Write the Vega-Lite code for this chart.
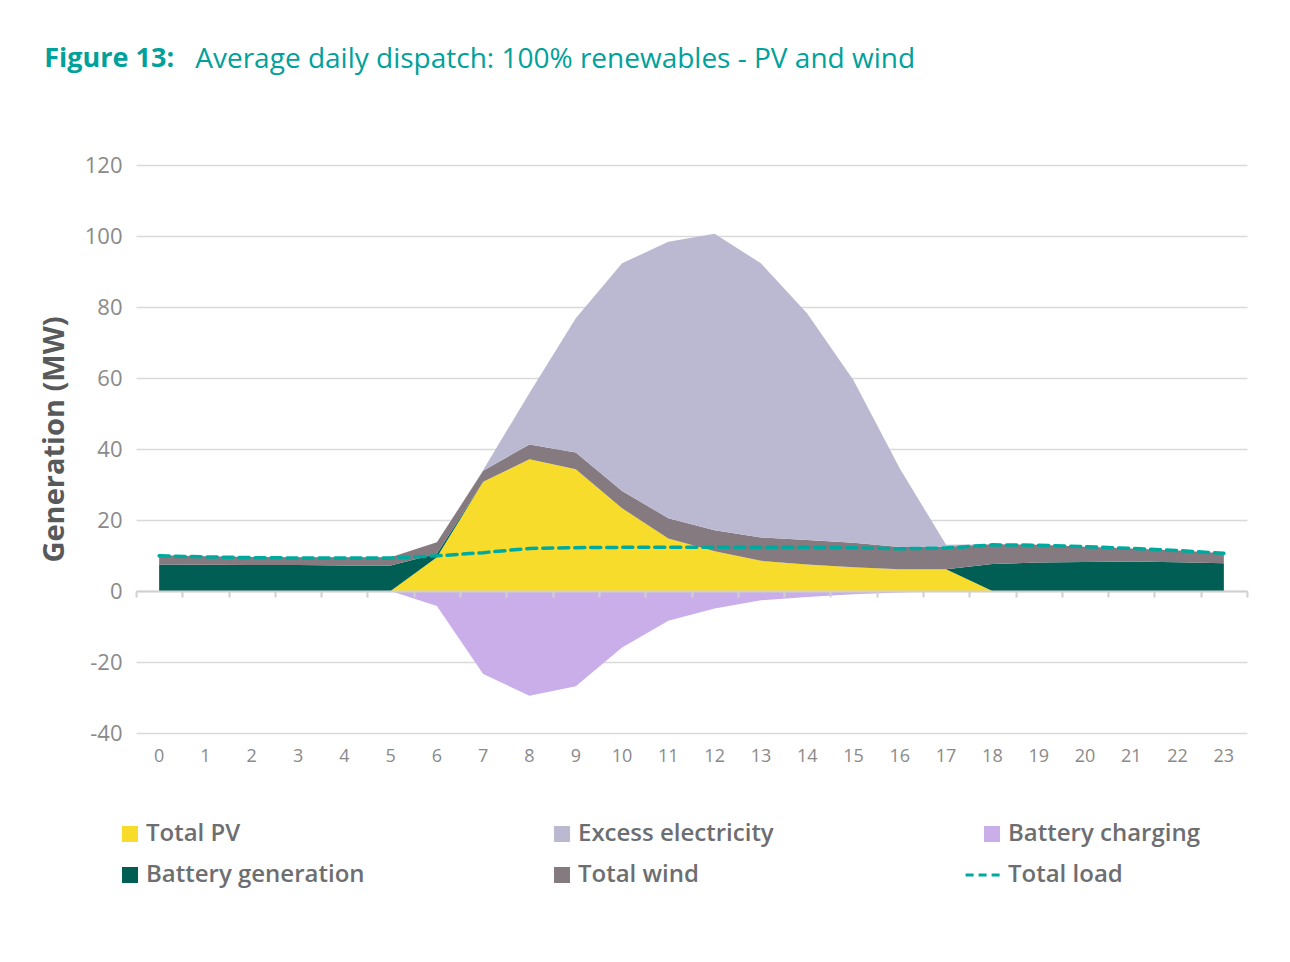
{
  "$schema": "https://vega.github.io/schema/vega-lite/v6.json",
  "width": 1111,
  "height": 568,
  "autosize": {"type": "none"},
  "padding": {"left": 136, "top": 165, "right": 43, "bottom": 229},
  "background": "white",
  "title": {
    "text": "Average daily dispatch: 100% renewables - PV and wind",
    "subtitle": "Figure 13:",
    "anchor": "start",
    "frame": "bounds",
    "dx": 4,
    "font": "Open Sans",
    "fontSize": 28,
    "fontWeight": "normal",
    "color": "#00a19a",
    "subtitleFont": "Open Sans",
    "subtitleFontSize": 27,
    "subtitleFontWeight": "bold",
    "subtitleColor": "#00a19a",
    "subtitlePadding": -28,
    "offset": 79,
    "encode": {"title": {"update": {"dx": {"value": 155}}}}
  },
  "datasets": {
    "stack": [
      {"hour": 0, "series": "Total PV", "ord": 1, "value": 0},
      {"hour": 1, "series": "Total PV", "ord": 1, "value": 0},
      {"hour": 2, "series": "Total PV", "ord": 1, "value": 0},
      {"hour": 3, "series": "Total PV", "ord": 1, "value": 0},
      {"hour": 4, "series": "Total PV", "ord": 1, "value": 0},
      {"hour": 5, "series": "Total PV", "ord": 1, "value": 0},
      {"hour": 6, "series": "Total PV", "ord": 1, "value": 9.5},
      {"hour": 7, "series": "Total PV", "ord": 1, "value": 30.8},
      {"hour": 8, "series": "Total PV", "ord": 1, "value": 37.1},
      {"hour": 9, "series": "Total PV", "ord": 1, "value": 34.3},
      {"hour": 10, "series": "Total PV", "ord": 1, "value": 23.3},
      {"hour": 11, "series": "Total PV", "ord": 1, "value": 14.8},
      {"hour": 12, "series": "Total PV", "ord": 1, "value": 11.2},
      {"hour": 13, "series": "Total PV", "ord": 1, "value": 8.5},
      {"hour": 14, "series": "Total PV", "ord": 1, "value": 7.5},
      {"hour": 15, "series": "Total PV", "ord": 1, "value": 6.7},
      {"hour": 16, "series": "Total PV", "ord": 1, "value": 6.1},
      {"hour": 17, "series": "Total PV", "ord": 1, "value": 6.1},
      {"hour": 18, "series": "Total PV", "ord": 1, "value": 0},
      {"hour": 19, "series": "Total PV", "ord": 1, "value": 0},
      {"hour": 20, "series": "Total PV", "ord": 1, "value": 0},
      {"hour": 21, "series": "Total PV", "ord": 1, "value": 0},
      {"hour": 22, "series": "Total PV", "ord": 1, "value": 0},
      {"hour": 23, "series": "Total PV", "ord": 1, "value": 0},
      {"hour": 0, "series": "Battery generation", "ord": 2, "value": 7.5},
      {"hour": 1, "series": "Battery generation", "ord": 2, "value": 7.4},
      {"hour": 2, "series": "Battery generation", "ord": 2, "value": 7.3},
      {"hour": 3, "series": "Battery generation", "ord": 2, "value": 7.3},
      {"hour": 4, "series": "Battery generation", "ord": 2, "value": 7.2},
      {"hour": 5, "series": "Battery generation", "ord": 2, "value": 7.2},
      {"hour": 6, "series": "Battery generation", "ord": 2, "value": 1.0},
      {"hour": 7, "series": "Battery generation", "ord": 2, "value": 0},
      {"hour": 8, "series": "Battery generation", "ord": 2, "value": 0},
      {"hour": 9, "series": "Battery generation", "ord": 2, "value": 0},
      {"hour": 10, "series": "Battery generation", "ord": 2, "value": 0},
      {"hour": 11, "series": "Battery generation", "ord": 2, "value": 0},
      {"hour": 12, "series": "Battery generation", "ord": 2, "value": 0},
      {"hour": 13, "series": "Battery generation", "ord": 2, "value": 0},
      {"hour": 14, "series": "Battery generation", "ord": 2, "value": 0},
      {"hour": 15, "series": "Battery generation", "ord": 2, "value": 0},
      {"hour": 16, "series": "Battery generation", "ord": 2, "value": 0},
      {"hour": 17, "series": "Battery generation", "ord": 2, "value": 0},
      {"hour": 18, "series": "Battery generation", "ord": 2, "value": 7.6},
      {"hour": 19, "series": "Battery generation", "ord": 2, "value": 8.0},
      {"hour": 20, "series": "Battery generation", "ord": 2, "value": 8.2},
      {"hour": 21, "series": "Battery generation", "ord": 2, "value": 8.3},
      {"hour": 22, "series": "Battery generation", "ord": 2, "value": 8.1},
      {"hour": 23, "series": "Battery generation", "ord": 2, "value": 7.8},
      {"hour": 0, "series": "Total wind", "ord": 3, "value": 2.6},
      {"hour": 1, "series": "Total wind", "ord": 3, "value": 2.4},
      {"hour": 2, "series": "Total wind", "ord": 3, "value": 2.3},
      {"hour": 3, "series": "Total wind", "ord": 3, "value": 2.2},
      {"hour": 4, "series": "Total wind", "ord": 3, "value": 2.3},
      {"hour": 5, "series": "Total wind", "ord": 3, "value": 2.3},
      {"hour": 6, "series": "Total wind", "ord": 3, "value": 3.2},
      {"hour": 7, "series": "Total wind", "ord": 3, "value": 3.1},
      {"hour": 8, "series": "Total wind", "ord": 3, "value": 4.2},
      {"hour": 9, "series": "Total wind", "ord": 3, "value": 4.7},
      {"hour": 10, "series": "Total wind", "ord": 3, "value": 4.9},
      {"hour": 11, "series": "Total wind", "ord": 3, "value": 5.7},
      {"hour": 12, "series": "Total wind", "ord": 3, "value": 5.9},
      {"hour": 13, "series": "Total wind", "ord": 3, "value": 6.6},
      {"hour": 14, "series": "Total wind", "ord": 3, "value": 6.9},
      {"hour": 15, "series": "Total wind", "ord": 3, "value": 6.9},
      {"hour": 16, "series": "Total wind", "ord": 3, "value": 6.3},
      {"hour": 17, "series": "Total wind", "ord": 3, "value": 6.4},
      {"hour": 18, "series": "Total wind", "ord": 3, "value": 5.6},
      {"hour": 19, "series": "Total wind", "ord": 3, "value": 5.0},
      {"hour": 20, "series": "Total wind", "ord": 3, "value": 4.3},
      {"hour": 21, "series": "Total wind", "ord": 3, "value": 3.7},
      {"hour": 22, "series": "Total wind", "ord": 3, "value": 3.3},
      {"hour": 23, "series": "Total wind", "ord": 3, "value": 2.8},
      {"hour": 0, "series": "Excess electricity", "ord": 4, "value": 0},
      {"hour": 1, "series": "Excess electricity", "ord": 4, "value": 0},
      {"hour": 2, "series": "Excess electricity", "ord": 4, "value": 0},
      {"hour": 3, "series": "Excess electricity", "ord": 4, "value": 0},
      {"hour": 4, "series": "Excess electricity", "ord": 4, "value": 0},
      {"hour": 5, "series": "Excess electricity", "ord": 4, "value": 0},
      {"hour": 6, "series": "Excess electricity", "ord": 4, "value": 0},
      {"hour": 7, "series": "Excess electricity", "ord": 4, "value": 0.2},
      {"hour": 8, "series": "Excess electricity", "ord": 4, "value": 14.5},
      {"hour": 9, "series": "Excess electricity", "ord": 4, "value": 37.8},
      {"hour": 10, "series": "Excess electricity", "ord": 4, "value": 64.1},
      {"hour": 11, "series": "Excess electricity", "ord": 4, "value": 77.9},
      {"hour": 12, "series": "Excess electricity", "ord": 4, "value": 83.5},
      {"hour": 13, "series": "Excess electricity", "ord": 4, "value": 77.2},
      {"hour": 14, "series": "Excess electricity", "ord": 4, "value": 63.8},
      {"hour": 15, "series": "Excess electricity", "ord": 4, "value": 45.8},
      {"hour": 16, "series": "Excess electricity", "ord": 4, "value": 22.1},
      {"hour": 17, "series": "Excess electricity", "ord": 4, "value": 0.5},
      {"hour": 18, "series": "Excess electricity", "ord": 4, "value": 0},
      {"hour": 19, "series": "Excess electricity", "ord": 4, "value": 0},
      {"hour": 20, "series": "Excess electricity", "ord": 4, "value": 0},
      {"hour": 21, "series": "Excess electricity", "ord": 4, "value": 0},
      {"hour": 22, "series": "Excess electricity", "ord": 4, "value": 0},
      {"hour": 23, "series": "Excess electricity", "ord": 4, "value": 0}
    ],
    "charging": [
      {"hour": 0, "series": "Battery charging", "value": 0},
      {"hour": 1, "series": "Battery charging", "value": 0},
      {"hour": 2, "series": "Battery charging", "value": 0},
      {"hour": 3, "series": "Battery charging", "value": 0},
      {"hour": 4, "series": "Battery charging", "value": 0},
      {"hour": 5, "series": "Battery charging", "value": 0},
      {"hour": 6, "series": "Battery charging", "value": -4.2},
      {"hour": 7, "series": "Battery charging", "value": -23.4},
      {"hour": 8, "series": "Battery charging", "value": -29.5},
      {"hour": 9, "series": "Battery charging", "value": -26.8},
      {"hour": 10, "series": "Battery charging", "value": -15.9},
      {"hour": 11, "series": "Battery charging", "value": -8.4},
      {"hour": 12, "series": "Battery charging", "value": -4.9},
      {"hour": 13, "series": "Battery charging", "value": -2.6},
      {"hour": 14, "series": "Battery charging", "value": -1.7},
      {"hour": 15, "series": "Battery charging", "value": -0.9},
      {"hour": 16, "series": "Battery charging", "value": -0.4},
      {"hour": 17, "series": "Battery charging", "value": 0},
      {"hour": 18, "series": "Battery charging", "value": 0},
      {"hour": 19, "series": "Battery charging", "value": 0},
      {"hour": 20, "series": "Battery charging", "value": 0},
      {"hour": 21, "series": "Battery charging", "value": 0},
      {"hour": 22, "series": "Battery charging", "value": 0},
      {"hour": 23, "series": "Battery charging", "value": 0}
    ],
    "load": [
      {"hour": 0, "load": 9.9}, {"hour": 1, "load": 9.6}, {"hour": 2, "load": 9.4},
      {"hour": 3, "load": 9.3}, {"hour": 4, "load": 9.3}, {"hour": 5, "load": 9.3},
      {"hour": 6, "load": 9.9}, {"hour": 7, "load": 10.8}, {"hour": 8, "load": 12.0},
      {"hour": 9, "load": 12.2}, {"hour": 10, "load": 12.3}, {"hour": 11, "load": 12.3},
      {"hour": 12, "load": 12.3}, {"hour": 13, "load": 12.3}, {"hour": 14, "load": 12.3},
      {"hour": 15, "load": 12.2}, {"hour": 16, "load": 11.9}, {"hour": 17, "load": 12.1},
      {"hour": 18, "load": 13.0}, {"hour": 19, "load": 12.9}, {"hour": 20, "load": 12.5},
      {"hour": 21, "load": 12.0}, {"hour": 22, "load": 11.4}, {"hour": 23, "load": 10.6}
    ]
  },
  "layer": [
    {
      "data": {"name": "stack"},
      "mark": {"type": "area", "interpolate": "linear"},
      "encoding": {
        "x": {
          "field": "hour", "type": "ordinal",
          "scale": {"type": "band", "paddingInner": 0, "paddingOuter": 0},
          "bandPosition": 0.5,
          "axis": {
            "orient": "bottom", "title": null, "domain": false, "ticks": false, "grid": false,
            "labelAngle": 0, "labelFont": "Open Sans", "labelFontSize": 18, "labelColor": "#8a8a8a",
            "labelPadding": 14
          }
        },
        "y": {
          "field": "value", "type": "quantitative", "stack": "zero",
          "scale": {"domain": [-40, 120], "nice": false, "zero": false},
          "axis": {
            "values": [-40, -20, 0, 20, 40, 60, 80, 100, 120],
            "labelExpr": "replace(datum.label, '\u2212', '-')",
            "grid": true, "gridColor": "#d9d9d9", "gridWidth": 1.5,
            "domain": false, "ticks": false,
            "labelFont": "Open Sans", "labelFontSize": 22, "labelColor": "#8a8a8a", "labelPadding": 14,
            "title": "Generation (MW)", "titleFont": "Open Sans", "titleFontSize": 29,
            "titleFontWeight": "bold", "titleColor": "#58595b", "titlePadding": 15,
            "titleY": 274
          }
        },
        "color": {
          "field": "series", "type": "nominal",
          "scale": {
            "domain": ["Total PV", "Excess electricity", "Battery charging", "Battery generation", "Total wind", "Total load"],
            "range": ["#f7dc2b", "#bbb9d1", "#c9aeea", "#005e54", "#857a80", "#00a99d"]
          },
          "legend": {
            "title": null, "orient": "none", "legendX": -18, "legendY": 657,
            "direction": "horizontal", "columns": 3, "gridAlign": "each",
            "columnPadding": 185, "rowPadding": 17,
            "symbolType": "square", "symbolSize": 256, "symbolStrokeWidth": 0, "symbolOpacity": 1,
            "labelFont": "Open Sans", "labelFontSize": 24, "labelColor": "#6d6e71", "labelFontWeight": 600,
            "labelOffset": 4, "labelLimit": 400,
            "encode": {
              "symbols": {
                "update": {
                  "shape": {"signal": "datum.value === 'Total load' ? 'M-3.3,0H0.95' : 'square'"},
                  "fill": {"signal": "datum.value === 'Total load' ? 'transparent' : scale('color', datum.value)"},
                  "stroke": {"signal": "datum.value === 'Total load' ? '#00a99d' : 'transparent'"},
                  "strokeWidth": {"signal": "datum.value === 'Total load' ? 3 : 0"},
                  "strokeDash": {"signal": "datum.value === 'Total load' ? [8, 5] : [1, 0]"},
                  "opacity": {"value": 1}
                }
              }
            }
          }
        },
        "order": {"field": "ord", "type": "quantitative"}
      }
    },
    {
      "data": {"name": "charging"},
      "mark": {"type": "area", "interpolate": "linear"},
      "encoding": {
        "x": {
          "field": "hour", "type": "ordinal",
          "scale": {"type": "band", "paddingInner": 0, "paddingOuter": 0},
          "bandPosition": 0.5,
          "axis": null
        },
        "y": {"field": "value", "type": "quantitative", "stack": null},
        "color": {"field": "series", "type": "nominal"}
      }
    },
    {
      "data": {"name": "load"},
      "mark": {"type": "line", "strokeDash": [10, 6], "strokeWidth": 3.5, "strokeCap": "round"},
      "encoding": {
        "x": {
          "field": "hour", "type": "ordinal",
          "scale": {"type": "band", "paddingInner": 0, "paddingOuter": 0},
          "bandPosition": 0.5,
          "axis": {
            "orient": "bottom", "offset": -142, "title": null, "labels": false, "grid": false,
            "domain": true, "domainColor": "#d0d0d0", "domainWidth": 2,
            "ticks": true, "tickBand": "extent", "tickColor": "#d0d0d0", "tickSize": 6, "tickWidth": 2,
            "zindex": 1
          }
        },
        "y": {"field": "load", "type": "quantitative"},
        "color": {"datum": "Total load"}
      }
    }
  ],
  "resolve": {"axis": {"x": "independent"}},
  "config": {"view": {"stroke": null}}
}
